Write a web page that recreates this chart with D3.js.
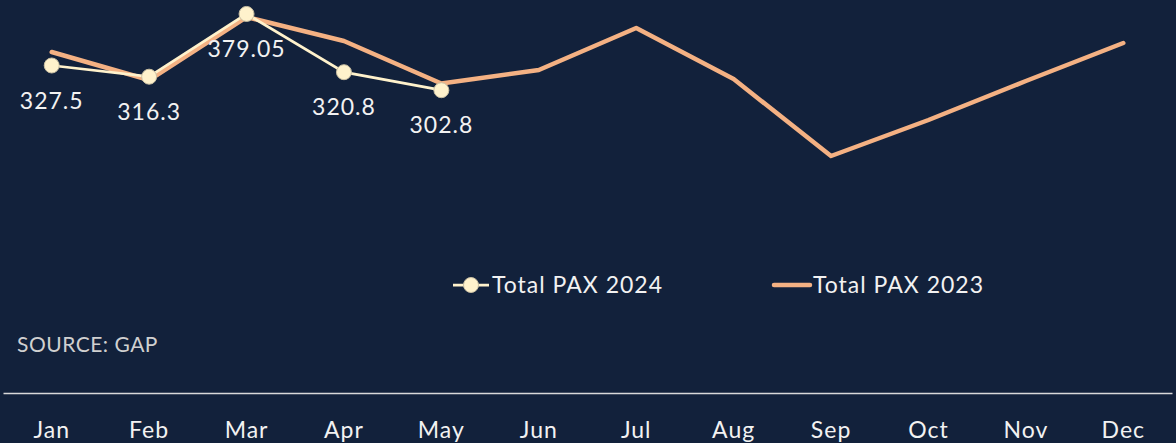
<!DOCTYPE html>
<html>
<head>
<meta charset="utf-8">
<script src="https://cdn.jsdelivr.net/npm/d3@7"></script>
<style>
  html, body { margin: 0; padding: 0; background: #12213b; }
  svg { display: block; }
  text { font-family: Lato, "Open Sans", sans-serif; letter-spacing: 1px; }
</style>
</head>
<body>
<div id="chart"></div>
<script>
// datos
var months = ["Jan", "Feb", "Mar", "Apr", "May", "Jun", "Jul", "Aug", "Sep", "Oct", "Nov", "Dec"];
var pax2024 = [327.5, 316.3, 379.05, 320.8, 302.8];
var pax2023 = [341, 313, 376, 352, 309.5, 323, 365, 314, 237, 273, 312, 350];
var labels2024 = ["327.5", "316.3", "379.05", "320.8", "302.8"];
var seriesNames = ["Total PAX 2024", "Total PAX 2023"];
var sourceText = "SOURCE: GAP";

var width = 1176;
var height = 443;

var svg = d3.select("#chart").append("svg")
  .attr("width", width)
  .attr("height", height);

svg.append("rect")
  .attr("width", width)
  .attr("height", height)
  .attr("fill", "#12213b");

var x = d3.scaleBand().domain(months).range([3, 1172]);
var y = d3.scaleLinear().domain([0, 400]).range([393, -7]);

function cx(i) { return x(months[i]) + x.bandwidth() / 2; }

var line = d3.line()
  .x(function(d, i) { return cx(i); })
  .y(function(d) { return y(d); });

// eje x
var xAxis = svg.append("g")
  .attr("transform", "translate(0," + y(0) + ")")
  .call(d3.axisBottom(x).tickSize(0).tickPadding(29));
xAxis.select(".domain")
  .attr("stroke", "#d9d9d9")
  .attr("stroke-width", 1.5);
xAxis.selectAll("text")
  .attr("fill", "#f2f2f2")
  .style("font-size", "23px")
  .style("font-family", "Lato, sans-serif")
  .style("letter-spacing", "1px");

// serie 2023
svg.append("path")
  .datum(pax2023)
  .attr("fill", "none")
  .attr("stroke", "#f4b183")
  .attr("stroke-width", 4.5)
  .attr("stroke-linejoin", "round")
  .attr("stroke-linecap", "round")
  .attr("d", line);

// serie 2024
svg.append("path")
  .datum(pax2024)
  .attr("fill", "none")
  .attr("stroke", "#fff2cc")
  .attr("stroke-width", 2.75)
  .attr("d", line);

svg.selectAll(".dot")
  .data(pax2024)
  .enter()
  .append("circle")
  .attr("class", "dot")
  .attr("cx", function(d, i) { return cx(i); })
  .attr("cy", function(d) { return y(d); })
  .attr("r", 7.5)
  .attr("fill", "#fff2cc")
  .attr("stroke", "#c9bfa3")
  .attr("stroke-width", 1);

svg.selectAll(".lbl")
  .data(pax2024)
  .enter()
  .append("text")
  .attr("class", "lbl")
  .attr("x", function(d, i) { return cx(i); })
  .attr("y", function(d) { return y(d) + 35; })
  .attr("dy", "0.35em")
  .attr("text-anchor", "middle")
  .attr("fill", "#f2f2f2")
  .style("font-size", "23px")
  .text(function(d, i) { return labels2024[i]; });

// leyenda
var legend = svg.append("g").attr("transform", "translate(0,285)");
legend.append("line")
  .attr("x1", 453).attr("x2", 489)
  .attr("stroke", "#fff2cc").attr("stroke-width", 2.75);
legend.append("circle")
  .attr("cx", 471).attr("r", 7.5)
  .attr("fill", "#fff2cc").attr("stroke", "#c9bfa3").attr("stroke-width", 1);
legend.append("text")
  .attr("x", 492).attr("dy", "0.35em")
  .attr("fill", "#f2f2f2").style("font-size", "23px")
  .text(seriesNames[0]);
legend.append("line")
  .attr("x1", 774).attr("x2", 810)
  .attr("stroke", "#f4b183").attr("stroke-width", 4.5)
  .attr("stroke-linecap", "round");
legend.append("text")
  .attr("x", 813).attr("dy", "0.35em")
  .attr("fill", "#f2f2f2").style("font-size", "23px")
  .text(seriesNames[1]);

// fuente
svg.append("text")
  .attr("x", 17).attr("y", 345).attr("dy", "0.35em")
  .attr("fill", "#d0d0d0").style("font-size", "21px")
  .style("letter-spacing", "0.5px")
  .text(sourceText);
</script>
</body>
</html>
